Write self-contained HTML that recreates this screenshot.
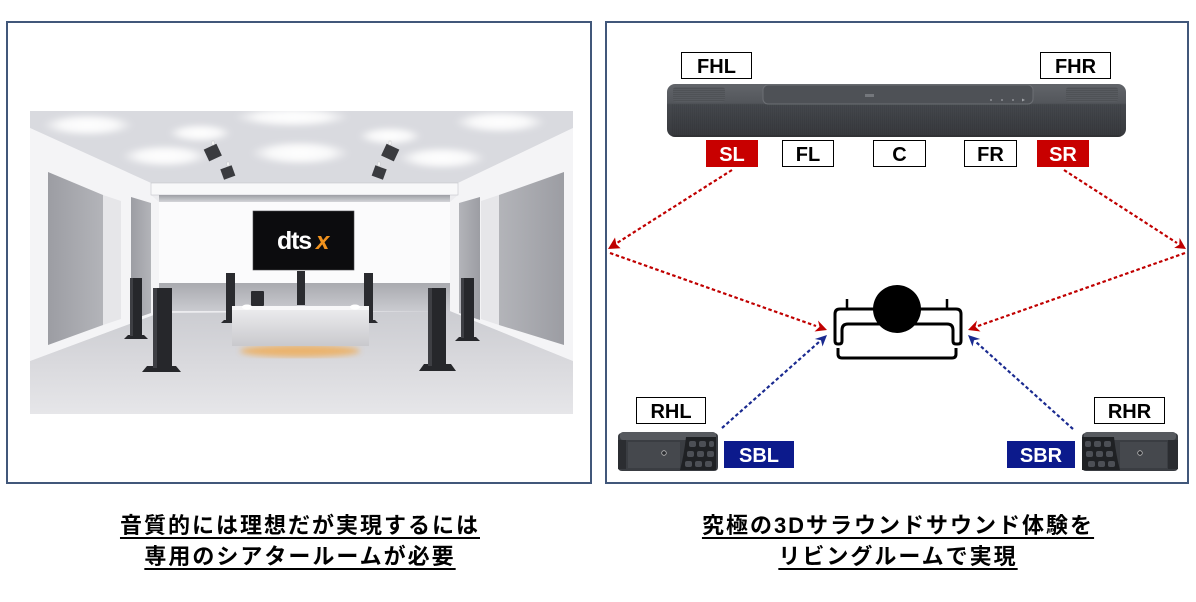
<!DOCTYPE html>
<html><head><meta charset="utf-8">
<style>
html,body{margin:0;padding:0;background:#fff;}
body{width:1196px;height:602px;position:relative;overflow:hidden;}
svg{position:absolute;left:0;top:0;}
.cap{position:absolute;text-align:center;font-family:"Liberation Sans","Noto Sans CJK JP",sans-serif;font-weight:bold;font-size:22px;line-height:31px;letter-spacing:2px;color:#000;}
.cap span{text-decoration:underline;text-decoration-thickness:2px;text-underline-offset:4px;padding-left:2px;}
.lbl{font-family:"Liberation Sans",Arial,sans-serif;font-weight:bold;font-size:20px;}
</style></head>
<body>
<svg width="1196" height="602" viewBox="0 0 1196 602" xmlns="http://www.w3.org/2000/svg">
<defs>
  <radialGradient id="blob"><stop offset="0" stop-color="#fff" stop-opacity="1"/><stop offset="0.6" stop-color="#fff" stop-opacity="0.85"/><stop offset="1" stop-color="#fff" stop-opacity="0"/></radialGradient>
  <linearGradient id="floorg" x1="0" y1="0" x2="0" y2="1"><stop offset="0" stop-color="#cbccd1"/><stop offset="0.5" stop-color="#d9d9dd"/><stop offset="1" stop-color="#e6e6e9"/></linearGradient>
  <linearGradient id="gpl" x1="0" y1="0" x2="1" y2="0"><stop offset="0" stop-color="#9c9da3"/><stop offset="1" stop-color="#b3b4b9"/></linearGradient>
  <linearGradient id="gpr" x1="1" y1="0" x2="0" y2="0"><stop offset="0" stop-color="#9c9da3"/><stop offset="1" stop-color="#b3b4b9"/></linearGradient>
  <linearGradient id="band" x1="0" y1="0" x2="0" y2="1"><stop offset="0" stop-color="#a9aaaf"/><stop offset="1" stop-color="#cacbd0"/></linearGradient>
  <linearGradient id="under" x1="0" y1="0" x2="0" y2="1"><stop offset="0" stop-color="#9d9ea4"/><stop offset="1" stop-color="#d4d5d9"/></linearGradient>
  <linearGradient id="couch" x1="0" y1="0" x2="0" y2="1"><stop offset="0" stop-color="#eeeef0"/><stop offset="1" stop-color="#c9c9cd"/></linearGradient>
  <linearGradient id="sbg" x1="0" y1="0" x2="0" y2="1">
    <stop offset="0" stop-color="#62656a"/><stop offset="0.36" stop-color="#53565b"/>
    <stop offset="0.39" stop-color="#45484d"/><stop offset="1" stop-color="#37393d"/>
  </linearGradient>
  <pattern id="vl" width="2" height="4" patternUnits="userSpaceOnUse"><rect width="1" height="4" fill="#000" opacity="0.06"/></pattern>
  <pattern id="hl" width="4" height="2" patternUnits="userSpaceOnUse"><rect width="4" height="1" fill="#000" opacity="0.1"/></pattern>
  <filter id="blur3"><feGaussianBlur stdDeviation="3"/></filter>
  <clipPath id="rc"><rect x="0" y="0" width="543" height="303"/></clipPath>
</defs>

<!-- panels -->
<rect x="7" y="22" width="584" height="461" fill="none" stroke="#41577a" stroke-width="2"/>
<rect x="606" y="22" width="582" height="461" fill="none" stroke="#41577a" stroke-width="2"/>

<!-- ROOM IMAGE -->
<g transform="translate(30,111)">
<g clip-path="url(#rc)">
  <rect width="543" height="303" fill="#ececef"/>
  <polygon points="0,0 543,0 543,17 428,72 121,72 0,17" fill="#d9dadf"/>
  <g filter="url(#blur3)">
    <ellipse cx="58" cy="14" rx="46" ry="11" fill="url(#blob)"/>
    <ellipse cx="262" cy="6" rx="58" ry="10" fill="url(#blob)"/>
    <ellipse cx="470" cy="11" rx="46" ry="11" fill="url(#blob)"/>
    <ellipse cx="270" cy="42" rx="50" ry="12" fill="url(#blob)"/>
    <ellipse cx="412" cy="47" rx="44" ry="11" fill="url(#blob)"/>
    <ellipse cx="135" cy="45" rx="44" ry="11" fill="url(#blob)"/>
    <ellipse cx="360" cy="25" rx="32" ry="9" fill="url(#blob)"/>
    <ellipse cx="170" cy="22" rx="32" ry="9" fill="url(#blob)"/>
  </g>
  <polygon points="0,250 129,202 420,200 543,250 543,303 0,303" fill="url(#floorg)"/>
  <polygon points="0,17 121,72 121,84 129,91 129,202 0,250" fill="#f4f4f6"/>
  <polygon points="543,17 428,72 428,84 420,91 420,200 543,250" fill="#f4f4f6"/>
  <polygon points="18,61 73,84 73,214 18,234" fill="url(#gpl)"/>
  <polygon points="73,84 91,90 91,208 73,214" fill="#e6e6e9"/>
  <polygon points="101,86 121,92 121,202 101,209" fill="url(#gpl)"/>
  <polygon points="534,61 469,84 469,214 534,234" fill="url(#gpr)"/>
  <polygon points="469,84 451,90 451,208 469,214" fill="#e6e6e9"/>
  <polygon points="450,86 429,92 429,202 450,209" fill="url(#gpr)"/>
  <rect x="121" y="72" width="307" height="12" fill="#f8f8f9" stroke="#c6c7cb" stroke-width="0.6"/>
  <rect x="129" y="84" width="291" height="7" fill="url(#under)"/>
  <rect x="129" y="91" width="291" height="81" fill="#fbfbfc"/>
  <rect x="129" y="172" width="291" height="28" fill="url(#band)"/>
  <!-- TV -->
  <rect x="223" y="100" width="101" height="59" fill="#0c0c0e" stroke="#4a4a4e" stroke-width="0.6"/>
  <text x="247" y="138" font-family="Liberation Sans, Arial, sans-serif" font-size="25" font-weight="bold" fill="#fff" letter-spacing="-1.2">dts</text>
  <text x="286" y="138" font-family="Liberation Sans, Arial, sans-serif" font-size="24" font-weight="bold" font-style="italic" fill="#f0921e">x</text>
  <!-- ceiling speakers -->
  <g fill="#3a3b3f">
    <rect x="176" y="35" width="14" height="13" transform="rotate(-25 183 42)"/>
    <rect x="353" y="35" width="14" height="13" transform="rotate(25 360 42)"/>
    <rect x="192" y="56" width="12" height="11" transform="rotate(-20 198 62)"/>
    <rect x="343" y="56" width="12" height="11" transform="rotate(20 349 62)"/>
  </g>
  <g fill="#fff" stroke="#bbb" stroke-width="0.4">
    <rect x="182" y="30" width="2" height="4"/><rect x="359" y="30" width="2" height="4"/>
    <rect x="197" y="51" width="2" height="4"/><rect x="348" y="51" width="2" height="4"/>
  </g>
  <!-- back towers -->
  <g fill="#2a2b2f">
    <rect x="196" y="162" width="9" height="48"/><polygon points="191,212 211,212 208,209 194,209"/>
    <rect x="334" y="162" width="9" height="48"/><polygon points="330,212 348,212 345,209 333,209"/>
    <rect x="267" y="160" width="8" height="34"/>
    <rect x="221" y="180" width="13" height="15" rx="1"/>
  </g>
  <!-- couch -->
  <ellipse cx="270" cy="240" rx="60" ry="6" fill="#f2a84a" opacity="0.75" filter="url(#blur3)"/>
  <rect x="202" y="195" width="137" height="40" fill="url(#couch)"/>
  <rect x="202" y="195" width="137" height="4" fill="#f7f7f8"/>
  <ellipse cx="217" cy="196" rx="5" ry="2.5" fill="#fff"/>
  <ellipse cx="325" cy="196" rx="5" ry="2.5" fill="#fff"/>
  <!-- side towers -->
  <g fill="#26272b">
    <rect x="100" y="167" width="12" height="58"/><polygon points="94,228 118,228 114,224 98,224"/>
    <rect x="431" y="167" width="13" height="60"/><polygon points="425,230 450,230 446,226 429,226"/>
    <rect x="123" y="177" width="19" height="80"/><polygon points="112,261 151,261 146,255 117,255"/>
    <rect x="398" y="177" width="18" height="78"/><polygon points="389,260 426,260 421,253 394,253"/>
  </g>
  <g fill="#3e3f44">
    <rect x="123" y="177" width="4" height="80"/><rect x="398" y="177" width="4" height="78"/>
    <rect x="100" y="167" width="3" height="58"/><rect x="431" y="167" width="3" height="60"/>
  </g>
</g>
</g>

<!-- SOUNDBAR -->
<rect x="667" y="84" width="459" height="53" rx="8" fill="url(#sbg)"/>
<rect x="672" y="104" width="449" height="31" fill="url(#vl)"/>
<rect x="673" y="87" width="52" height="15" rx="3" fill="#585b60"/>
<rect x="673" y="87" width="52" height="15" rx="3" fill="url(#hl)"/>
<rect x="1066" y="87" width="52" height="15" rx="3" fill="#585b60"/>
<rect x="1066" y="87" width="52" height="15" rx="3" fill="url(#hl)"/>
<rect x="763" y="85" width="270" height="19" rx="5" fill="#4e5156" stroke="#6c6f74" stroke-width="1"/>
<rect x="865" y="94" width="9" height="3" fill="#74777c"/>
<g fill="#a0a3a8"><circle cx="991" cy="100" r="0.9"/><circle cx="1002" cy="100" r="0.9"/><circle cx="1013" cy="100" r="0.9"/><polygon points="1022,98.5 1025,100 1022,101.5"/></g>
<line x1="672" y1="136" x2="1121" y2="136" stroke="#2a2a2c" stroke-width="1"/>

<!-- labels -->
<g class="lbl" text-anchor="middle">
  <rect x="681.5" y="52.5" width="70" height="26" fill="#fff" stroke="#000" stroke-width="1"/>
  <text x="716.5" y="73">FHL</text>
  <rect x="1040.5" y="52.5" width="70" height="26" fill="#fff" stroke="#000" stroke-width="1"/>
  <text x="1075.5" y="73">FHR</text>
  <rect x="706" y="140" width="52" height="27" fill="#c80000"/>
  <text x="732" y="161" fill="#fff">SL</text>
  <rect x="782.5" y="140.5" width="51" height="26" fill="#fff" stroke="#000" stroke-width="1"/>
  <text x="808" y="161">FL</text>
  <rect x="873.5" y="140.5" width="52" height="26" fill="#fff" stroke="#000" stroke-width="1"/>
  <text x="899.5" y="161">C</text>
  <rect x="964.5" y="140.5" width="52" height="26" fill="#fff" stroke="#000" stroke-width="1"/>
  <text x="990.5" y="161">FR</text>
  <rect x="1037" y="140" width="52" height="27" fill="#c80000"/>
  <text x="1063" y="161" fill="#fff">SR</text>
  <rect x="636.5" y="397.5" width="69" height="26" fill="#fff" stroke="#000" stroke-width="1"/>
  <text x="671" y="418">RHL</text>
  <rect x="1094.5" y="397.5" width="70" height="26" fill="#fff" stroke="#000" stroke-width="1"/>
  <text x="1129.5" y="418">RHR</text>
  <rect x="724" y="441" width="70" height="27" fill="#0c1a8c"/>
  <text x="759" y="462" fill="#fff">SBL</text>
  <rect x="1007" y="441" width="68" height="27" fill="#0c1a8c"/>
  <text x="1041" y="462" fill="#fff">SBR</text>
</g>

<!-- dotted arrows -->
<g fill="none" stroke-width="2.2" stroke-dasharray="3.5 2.5">
  <line x1="732" y1="170" x2="617" y2="243" stroke="#c00000"/>
  <line x1="610" y1="253" x2="816" y2="326" stroke="#c00000"/>
  <line x1="1064" y1="170" x2="1177" y2="243" stroke="#c00000"/>
  <line x1="1185" y1="253" x2="978" y2="326" stroke="#c00000"/>
  <line x1="722" y1="428" x2="819" y2="342" stroke="#1a2a90"/>
  <line x1="1073" y1="429" x2="976" y2="342" stroke="#1a2a90"/>
</g>
<g fill="#c00000">
  <polygon points="608,249 620.6,248.2 616.3,244.3 615.0,237.5"/>
  <polygon points="827,330 814.5,331.5 819.5,326.9 818.0,320.5"/>
  <polygon points="1186,249 1174.2,247.9 1179.3,244.6 1179.6,237.9"/>
  <polygon points="968,330 980.5,331.5 975.5,326.9 977.0,320.5"/>
</g>
<g fill="#1a2a90">
  <polygon points="827,335 822.5,346.5 821.0,340.3 814.8,339.0"/>
  <polygon points="968,335 972.5,346.5 974.0,340.3 980.2,339.0"/>
</g>

<!-- person / chair -->
<path d="M835 341 L835 314 Q835 309 840 309 L956 309 Q961 309 961 314 L961 341 Q961 344 958 344 L956 344 Q953 344 953 341 L953 330 Q953 324 947 324 L848 324 Q842 324 842 330 L842 341 Q842 344 839 344 L838 344 Q835 344 835 341 Z" fill="#fff" stroke="#000" stroke-width="3" stroke-linejoin="round"/>
<line x1="847" y1="299" x2="847" y2="309" stroke="#000" stroke-width="2.5"/>
<line x1="947" y1="299" x2="947" y2="309" stroke="#000" stroke-width="2.5"/>
<path d="M838 348 L838 354 Q838 358 842 358 L952 358 Q956 358 956 354 L956 348" fill="none" stroke="#000" stroke-width="3"/>
<circle cx="897" cy="309" r="24" fill="#000"/>

<!-- rear speaker left -->
<g>
  <path d="M622,433 H714 Q718,433 718,437 V467 Q718,471 714,471 H622 Q618,471 618,467 V437 Q618,433 622,433Z" fill="#3a3d42"/>
  <rect x="620" y="432" width="96" height="8" rx="3" fill="#575a5f"/>
  <rect x="618" y="440" width="8" height="29" fill="#2b2d31"/>
  <rect x="628" y="442" width="52" height="26" fill="#45484d"/>
  <path d="M686,437 H716 V470 H680 Q684,455 686,437Z" fill="#1f2124"/>
  <g fill="#4c4f55">
    <rect x="689" y="441" width="7" height="6" rx="2"/><rect x="699" y="441" width="7" height="6" rx="2"/><rect x="709" y="441" width="5" height="6" rx="2"/>
    <rect x="687" y="451" width="7" height="6" rx="2"/><rect x="697" y="451" width="7" height="6" rx="2"/><rect x="707" y="451" width="7" height="6" rx="2"/>
    <rect x="685" y="461" width="7" height="6" rx="2"/><rect x="695" y="461" width="7" height="6" rx="2"/><rect x="705" y="461" width="7" height="6" rx="2"/>
  </g>
  <circle cx="664" cy="453" r="2.3" fill="#2a2c30" stroke="#bbb" stroke-width="0.8"/>
</g>
<!-- rear speaker right -->
<g>
  <path d="M1086,433 H1174 Q1178,433 1178,437 V467 Q1178,471 1174,471 H1086 Q1082,471 1082,467 V437 Q1082,433 1086,433Z" fill="#3a3d42"/>
  <rect x="1084" y="432" width="92" height="8" rx="3" fill="#575a5f"/>
  <rect x="1168" y="440" width="10" height="29" fill="#2b2d31"/>
  <rect x="1120" y="442" width="47" height="26" fill="#45484d"/>
  <path d="M1082,437 H1114 Q1116,455 1120,470 H1082Z" fill="#1f2124"/>
  <g fill="#4c4f55">
    <rect x="1085" y="441" width="6" height="6" rx="2"/><rect x="1094" y="441" width="7" height="6" rx="2"/><rect x="1104" y="441" width="7" height="6" rx="2"/>
    <rect x="1086" y="451" width="7" height="6" rx="2"/><rect x="1096" y="451" width="7" height="6" rx="2"/><rect x="1106" y="451" width="7" height="6" rx="2"/>
    <rect x="1088" y="461" width="7" height="6" rx="2"/><rect x="1098" y="461" width="7" height="6" rx="2"/><rect x="1108" y="461" width="7" height="6" rx="2"/>
  </g>
  <circle cx="1140" cy="453" r="2.3" fill="#2a2c30" stroke="#bbb" stroke-width="0.8"/>
</g>
</svg>

<div class="cap" style="left:7px;width:584px;top:510px;"><span>音質的には理想だが実現するには</span><br><span>専用のシアタールームが必要</span></div>
<div class="cap" style="left:606px;width:582px;top:510px;"><span>究極の3Dサラウンドサウンド体験を</span><br><span>リビングルームで実現</span></div>
</body></html>
